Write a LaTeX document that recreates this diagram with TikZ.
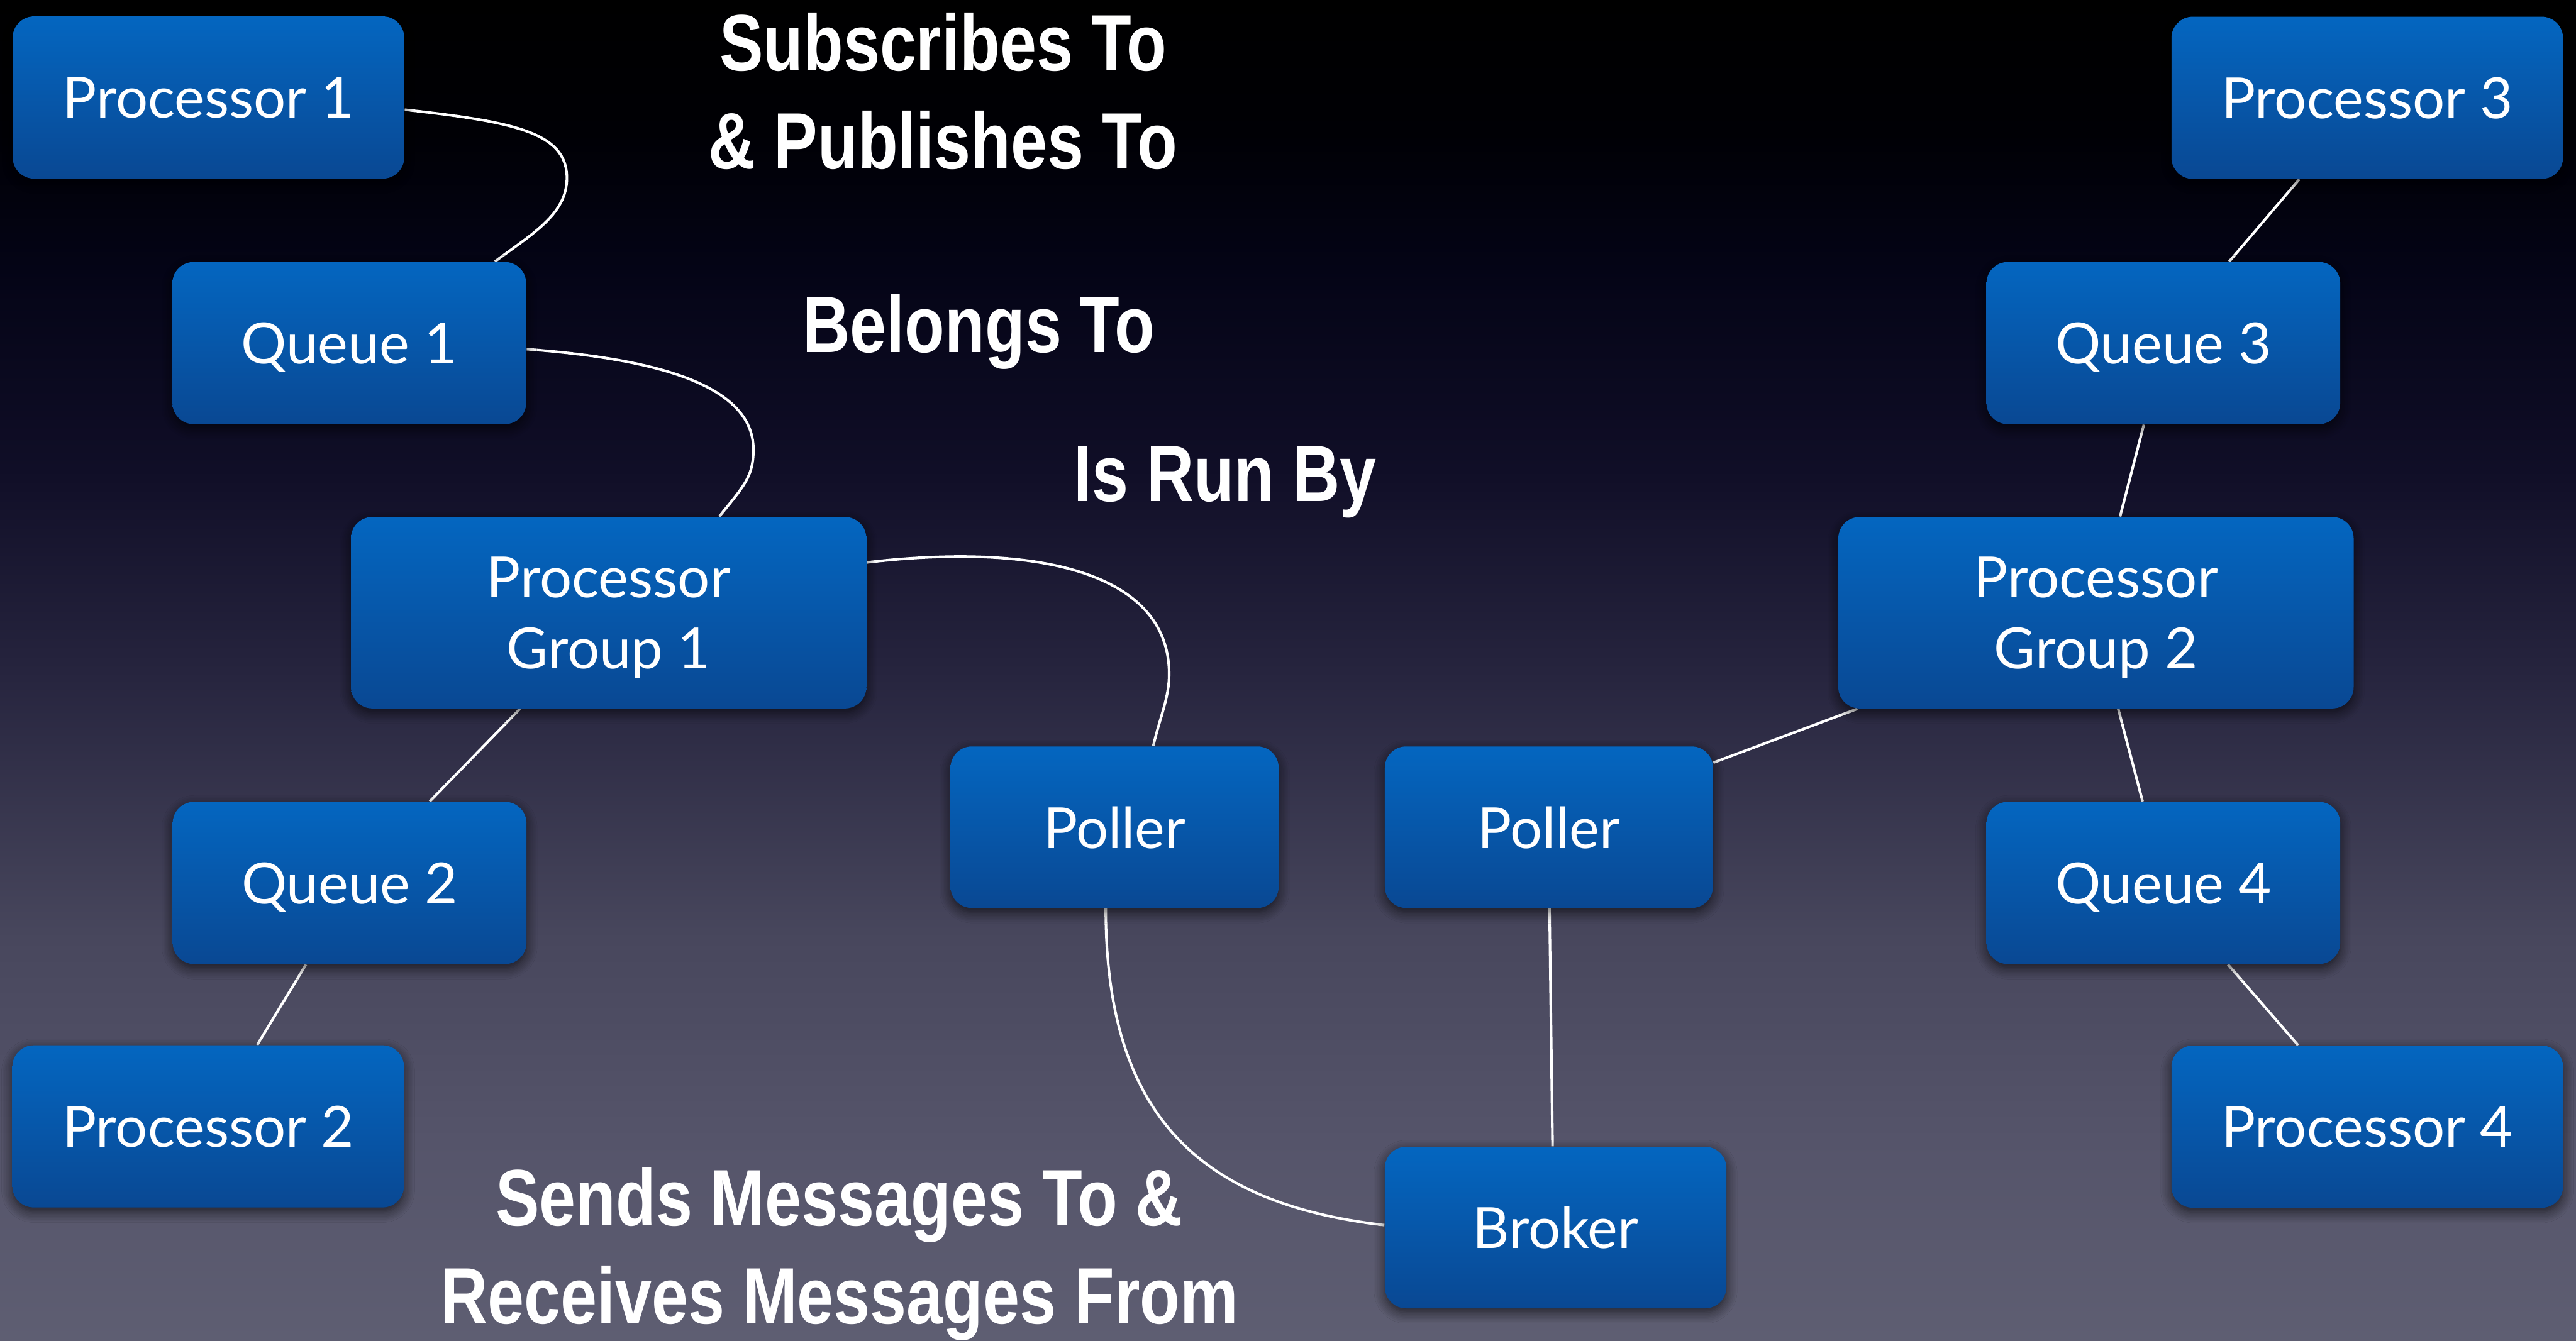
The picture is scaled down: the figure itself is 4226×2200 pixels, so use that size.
\documentclass[tikz,border=0pt]{standalone}
\usepackage{fontspec}
\usetikzlibrary{shadows.blur}
\newfontfamily\boxfont{Lato}
\newfontfamily\labelfont[FakeStretch=0.82]{Liberation Sans}

\definecolor{boxtop}{HTML}{0466C0}
\definecolor{boxbot}{HTML}{094893}
\definecolor{bgA}{HTML}{5E5E72}
\definecolor{bgB}{HTML}{55546A}
\definecolor{bgC}{HTML}{48475D}
\definecolor{bgD}{HTML}{26243E}
\definecolor{bgE}{HTML}{100E27}
\definecolor{bgF}{HTML}{040416}
\definecolor{bgG}{HTML}{000005}

\tikzset{
  % footprint of each kind of box
  procdim/.style={rectangle, inner sep=0pt, minimum width=6.42cm, minimum height=2.66cm},
  queuedim/.style={rectangle, inner sep=0pt, minimum width=5.80cm, minimum height=2.66cm},
  groupdim/.style={rectangle, inner sep=0pt, minimum width=8.45cm, minimum height=3.14cm},
  polldim/.style={rectangle, inner sep=0pt, minimum width=5.38cm, minimum height=2.65cm},
  brokdim/.style={rectangle, inner sep=0pt, minimum width=5.60cm, minimum height=2.65cm},
  % the visible rounded blue box
  box/.style={rounded corners=0.35cm, top color=boxtop, bottom color=boxbot,
    draw=none, text=white, align=center, inner sep=0pt, text depth=0pt,
    font=\boxfont\fontsize{26.5}{33}\selectfont,
    blur shadow={shadow xshift=0pt, shadow yshift=-2pt,
      shadow blur radius=5pt, shadow opacity=65, shadow blur steps=8}},
  relation/.style={text=white, align=center, inner sep=0pt,
    font=\labelfont\bfseries\fontsize{37.3}{45.8}\selectfont},
  wire/.style={draw=white, line width=1.2pt}
}

\begin{document}
\begin{tikzpicture}[x=0.01cm, y=-0.01cm]
\useasboundingbox (0,0) rectangle (4226,2200);

% backdrop: near black at the top, slate grey at the bottom, in bands
\shade[top color=black, bottom color=bgG] (0,0) rectangle (4226,221);
\shade[top color=bgG, bottom color=bgF] (0,220) rectangle (4226,441);
\shade[top color=bgF, bottom color=bgE] (0,440) rectangle (4226,771);
\shade[top color=bgE, bottom color=bgD] (0,770) rectangle (4226,1101);
\shade[top color=bgD, bottom color=bgC] (0,1100) rectangle (4226,1541);
\shade[top color=bgC, bottom color=bgB] (0,1540) rectangle (4226,1871);
\shade[top color=bgB, bottom color=bgA] (0,1870) rectangle (4226,2200);

% box footprints (placed first so the links can run beneath the boxes)
\node[procdim]  (p1)  at (342,160)      {};
\node[queuedim] (q1)  at (573,563)      {};
\node[groupdim] (pg1) at (998.5,1005.5) {};
\node[queuedim] (q2)  at (573.5,1449)   {};
\node[procdim]  (p2)  at (341.5,1848.5) {};
\node[polldim]  (pl)  at (1828.5,1357.5) {};
\node[polldim]  (pr)  at (2541,1357.5)   {};
\node[brokdim]  (br)  at (2552,2014.5)   {};
\node[procdim]  (p3)  at (3883.5,160.5)  {};
\node[queuedim] (q3)  at (3549,563)      {};
\node[groupdim] (pg2) at (3438.5,1005.5) {};
\node[queuedim] (q4)  at (3549,1449)     {};
\node[procdim]  (p4)  at (3883.5,1849)   {};

% curved links
\draw[wire] ([shift={(0,20)}]p1.east)
   .. controls +(180,20) and +(0,-75) .. ([shift={(357,-137)}]q1.north)
   .. controls +(0,60) and +(60,-45) .. ([shift={(239,0)}]q1.north);
\draw[wire] ([shift={(0,10)}]q1.east)
   .. controls +(200,15) and +(0,-110) .. ([shift={(237.5,-110)}]pg1.north)
   .. controls +(0,45) and +(40,-50) .. ([shift={(181.5,0)}]pg1.north);
\draw[wire] ([shift={(0,-82.5)}]pg1.east)
   .. controls +(280,-33) and +(0,-167) .. ([shift={(89.5,-118)}]pl.north)
   .. controls +(0,40) and +(10,-45) .. ([shift={(63.5,0)}]pl.north);
\draw[wire] ([shift={(-14.5,0)}]pl.south)
   .. controls +(0,330) and +(-313,-36) .. ([shift={(0,-4)}]br.west);
% straight links
\draw[wire] ([shift={(-145.5,0)}]pg1.south) -- ([shift={(131.5,0)}]q2.north);
\draw[wire] ([shift={(-71.5,0)}]q2.south) -- ([shift={(80.5,0)}]p2.north);
\draw[wire] ([shift={(1,0)}]pr.south) -- ([shift={(-5,0)}]br.north);
\draw[wire] ([shift={(0,-106)}]pr.east) -- ([shift={(32,0)}]pg2.south west);
\draw[wire] ([shift={(-111.5,0)}]p3.south) -- ([shift={(108,0)}]q3.north);
\draw[wire] ([shift={(-32,0)}]q3.south) -- ([shift={(39.5,0)}]pg2.north);
\draw[wire] ([shift={(36.5,0)}]pg2.south) -- ([shift={(-34,0)}]q4.north);
\draw[wire] ([shift={(106,0)}]q4.south) -- ([shift={(-113.5,0)}]p4.north);

% the boxes themselves
\node[procdim, box]  (p1box)  at (p1)  {Processor 1};
\node[queuedim, box] (q1box)  at (q1)  {Queue 1};
\node[groupdim, box] (pg1box) at (pg1) {Processor\\Group 1};
\node[queuedim, box] (q2box)  at (q2)  {Queue 2};
\node[procdim, box]  (p2box)  at (p2)  {Processor 2};
\node[polldim, box]  (plbox)  at (pl)  {Poller};
\node[polldim, box]  (prbox)  at (pr)  {Poller};
\node[brokdim, box]  (brbox)  at (br)  {Broker};
\node[procdim, box]  (p3box)  at (p3)  {Processor 3};
\node[queuedim, box] (q3box)  at (q3)  {Queue 3};
\node[groupdim, box] (pg2box) at (pg2) {Processor\\Group 2};
\node[queuedim, box] (q4box)  at (q4)  {Queue 4};
\node[procdim, box]  (p4box)  at (p4)  {Processor 4};

% relation captions
\node[relation] (subs) at (1547,149.5) {Subscribes To\\\& Publishes To};
\node[relation, anchor=base] (belongs) at (1606,578) {Belongs To};
\node[relation, anchor=base] (runby) at (2010,823) {Is Run By};
\node[relation] (sends) at (1377,2058) {Sends Messages To \&\\Receives Messages From};
\end{tikzpicture}
\end{document}
